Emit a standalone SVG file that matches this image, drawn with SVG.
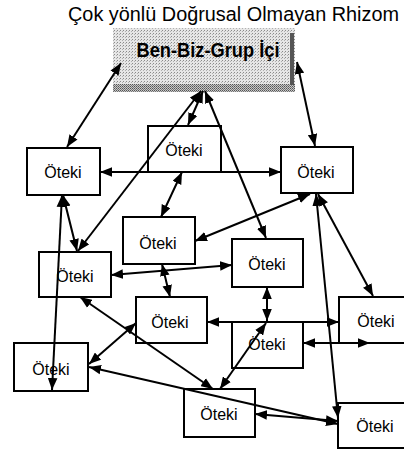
<svg xmlns="http://www.w3.org/2000/svg" width="404" height="454" viewBox="0 0 404 454">
<style>
.box{fill:none;stroke:#000;stroke-width:2}
.lbl{font-family:"Liberation Sans",Arial,sans-serif;font-size:16px;fill:#000;text-anchor:middle}
.ln{stroke:#000;stroke-width:2;fill:none;marker-start:url(#ah);marker-end:url(#ah)}
</style>
<defs>
<marker id="ah" viewBox="0 0 10 8" refX="10" refY="4" markerWidth="12" markerHeight="10" markerUnits="userSpaceOnUse" orient="auto-start-reverse">
<path d="M0,0 L10,4 L0,8 z" fill="#000"/>
</marker>
<pattern id="dots" width="3" height="3" patternUnits="userSpaceOnUse">
<rect width="3" height="3" fill="#e6e6e6"/>
<rect x="0" y="0" width="1" height="1" fill="#8a8a8a"/>
<rect x="2" y="1" width="1" height="1" fill="#b0b0b0"/>
</pattern>
<pattern id="dotsDark" width="2" height="2" patternUnits="userSpaceOnUse">
<rect width="2" height="2" fill="#c8c8c8"/>
<rect x="0" y="0" width="1" height="1" fill="#555"/>
<rect x="1" y="1" width="1" height="1" fill="#777"/>
</pattern>
</defs>

<text id="title" x="68" y="21" font-family="'Liberation Sans',Arial,sans-serif" font-size="20" textLength="331" lengthAdjust="spacingAndGlyphs">Çok yönlü Doğrusal Olmayan Rhizom</text>

<g id="benbiz">
<rect x="113" y="28" width="182" height="64" fill="url(#dots)"/>
<rect x="113" y="84" width="182" height="8" fill="url(#dotsDark)"/>
<rect x="290" y="33" width="4" height="52" fill="#555"/>
<text x="208" y="57" font-family="'Liberation Sans',Arial,sans-serif" font-size="20" font-weight="bold" text-anchor="middle" textLength="143" lengthAdjust="spacingAndGlyphs">Ben-Biz-Grup İçi</text>
</g>

<g id="connectors">
<line class="ln" x1="121" y1="63" x2="67" y2="147"/>
<line class="ln" x1="203" y1="91" x2="188" y2="125"/>
<line class="ln" x1="201" y1="91" x2="78" y2="251"/>
<line class="ln" x1="205" y1="91" x2="266" y2="238"/>
<line class="ln" x1="297" y1="62" x2="315" y2="146"/>
<line class="ln" x1="100" y1="172" x2="281" y2="172"/>
<line class="ln" x1="182" y1="172" x2="161" y2="217"/>
<line class="ln" x1="310" y1="194" x2="195" y2="241"/>
<line class="ln" x1="318" y1="194" x2="373" y2="296"/>
<line class="ln" x1="316" y1="194" x2="338" y2="418"/>
<line class="ln" x1="111" y1="275" x2="232" y2="265"/>
<line class="ln" x1="162" y1="264" x2="170" y2="297"/>
<line class="ln" x1="267" y1="287" x2="267" y2="321"/>
<line class="ln" x1="207" y1="322" x2="339" y2="322"/>
<line class="ln" x1="303" y1="343" x2="370" y2="343"/>
<line class="ln" x1="266" y1="323" x2="220" y2="389"/>
<line class="ln" x1="80" y1="297" x2="213" y2="389"/>
<line class="ln" x1="136" y1="323" x2="89" y2="364"/>
<line class="ln" x1="89" y1="367" x2="338" y2="424"/>
<line class="ln" x1="255" y1="414" x2="338" y2="421"/>
<line class="ln" x1="63" y1="195" x2="77" y2="251"/>
<line class="ln" x1="62" y1="195" x2="52" y2="390"/>
</g>

<g id="nA"><rect class="box" x="27" y="148" width="73" height="47"/><text class="lbl" x="63" y="178">Öteki</text></g>
<g id="nB"><rect class="box" x="148" y="126" width="73" height="46"/><text class="lbl" x="184" y="156">Öteki</text></g>
<g id="nC"><rect class="box" x="281" y="147" width="72" height="46"/><text class="lbl" x="316" y="178">Öteki</text></g>
<g id="nD"><rect class="box" x="123" y="217" width="72" height="47"/><text class="lbl" x="158" y="249">Öteki</text></g>
<g id="nE"><rect class="box" x="39" y="252" width="72" height="45"/><text class="lbl" x="75" y="282">Öteki</text></g>
<g id="nF"><rect class="box" x="232" y="239" width="71" height="48"/><text class="lbl" x="267" y="270">Öteki</text></g>
<g id="nG"><rect class="box" x="136" y="297" width="71" height="46"/><text class="lbl" x="170" y="328">Öteki</text></g>
<g id="nH"><rect class="box" x="232" y="322" width="71" height="46"/><text class="lbl" x="267" y="350">Öteki</text></g>
<g id="nI"><rect class="box" x="339" y="297" width="72" height="46"/><text class="lbl" x="376" y="327">Öteki</text></g>
<g id="nJ"><rect class="box" x="14" y="343" width="74" height="48"/><text class="lbl" x="51" y="375">Öteki</text></g>
<g id="nK"><rect class="box" x="184" y="389" width="71" height="48"/><text class="lbl" x="219" y="420">Öteki</text></g>
<g id="nL"><rect class="box" x="338" y="403" width="72" height="45"/><text class="lbl" x="375" y="432">Öteki</text></g>
</svg>
